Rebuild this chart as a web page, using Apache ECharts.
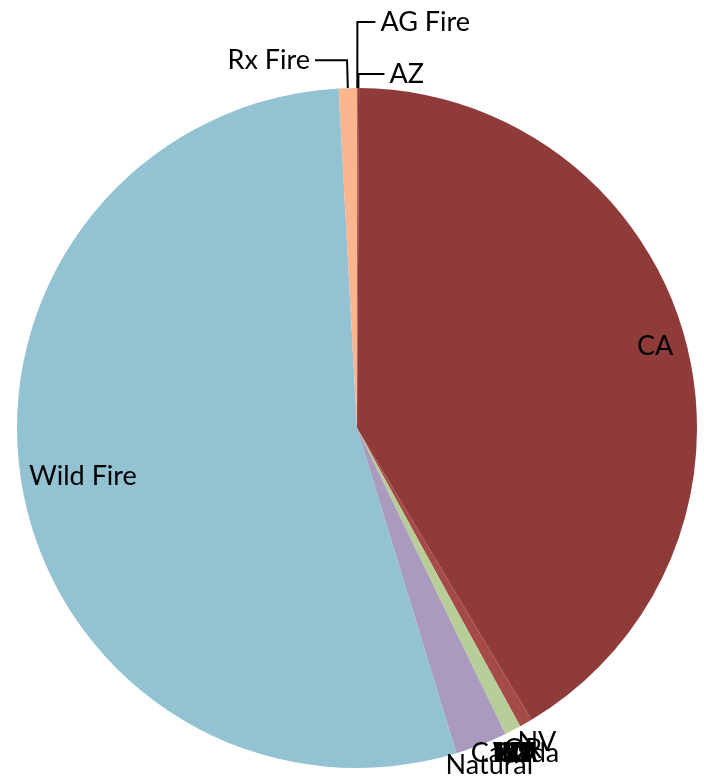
<!DOCTYPE html>
<html><head><meta charset="utf-8">
<script src="https://cdn.jsdelivr.net/npm/echarts@6/dist/echarts.min.js"></script>
<style>html,body{margin:0;padding:0;background:#fff}#c{width:704px;height:778px}</style>
</head><body><div id="c"></div>
<script>
// Slices clockwise from 12 o'clock (percent of total)
const categories = ['AG Fire','AZ','CA','NV','OR','CO','ID','MT','NM','UT','WA','Canada','Natural','Wild Fire','Rx Fire'];
const values     = [0.03, 0.07, 41.32, 0.61, 0.78, 0, 0, 0, 0, 0, 0, 0, 2.47, 53.86, 0.86];
const sliceColors = ['#8E3B39','#8E3B39','#8E3B39','#A64A47','#B8CE98','#A99ABE','#A99ABE','#A99ABE','#A99ABE','#A99ABE','#A99ABE','#A99ABE','#A99ABE','#93C2D3','#F8B58E'];

// label groups
const topLabels = {            // outside labels with leader lines
  'AG Fire':  {length: 66, length2: 18},
  'AZ':       {length: 14, length2: 26},
  'Rx Fire':  {length: 28, length2: 32}
};
const innerLabelsA = ['CA'];
const innerLabelsB = ['Wild Fire'];
const rimLabels = ['NV','OR','CO','ID','MT','NM','UT','WA','Canada','Natural'];

const R = 340, CX = 357, CY = 428;
const FONT = 'Lato, "Open Sans", sans-serif';
const textStyle = {color:'#000', fontFamily: FONT, fontSize: 27};

const chart = echarts.init(document.getElementById('c'), null, {renderer:'canvas'});

function overlay(radius, names){
  return {
    type:'pie', radius: radius, center:[CX, CY], startAngle: 90, clockwise: true,
    silent: true, animation: false, avoidLabelOverlap: false,
    emphasis: {disabled: true},
    labelLayout: {hideOverlap: false},
    itemStyle: {color: 'rgba(0,0,0,0)', borderWidth: 0},
    labelLine: {show: false},
    label: Object.assign({position: 'inside'}, textStyle),
    data: categories.map((c,i)=>({name: c, value: values[i], label: {show: names.indexOf(c) >= 0}}))
  };
}

chart.setOption({
  animation: false,
  backgroundColor: '#fff',
  series: [
    {
      type: 'pie', radius: R, center: [CX, CY], startAngle: 90, clockwise: true,
      animation: false, avoidLabelOverlap: false, silent: true,
      emphasis: {disabled: true},
      labelLayout: {hideOverlap: false},
      itemStyle: {borderWidth: 0},
      label: Object.assign({position: 'outside', distanceToLabelLine: 5}, textStyle),
      labelLine: {lineStyle: {color: '#000', width: 2}},
      data: categories.map((c,i)=>{
        const t = topLabels[c];
        return {
          name: c, value: values[i],
          itemStyle: {color: sliceColors[i]},
          label: {show: !!t},
          labelLine: t ? {show: true, length: t.length, length2: t.length2} : {show: false}
        };
      })
    },
    overlay([R*0.8, R], innerLabelsA),
    overlay([R*0.62, R], innerLabelsB),
    overlay([R+4, R+34], rimLabels)
  ]
});
</script>
</body></html>
